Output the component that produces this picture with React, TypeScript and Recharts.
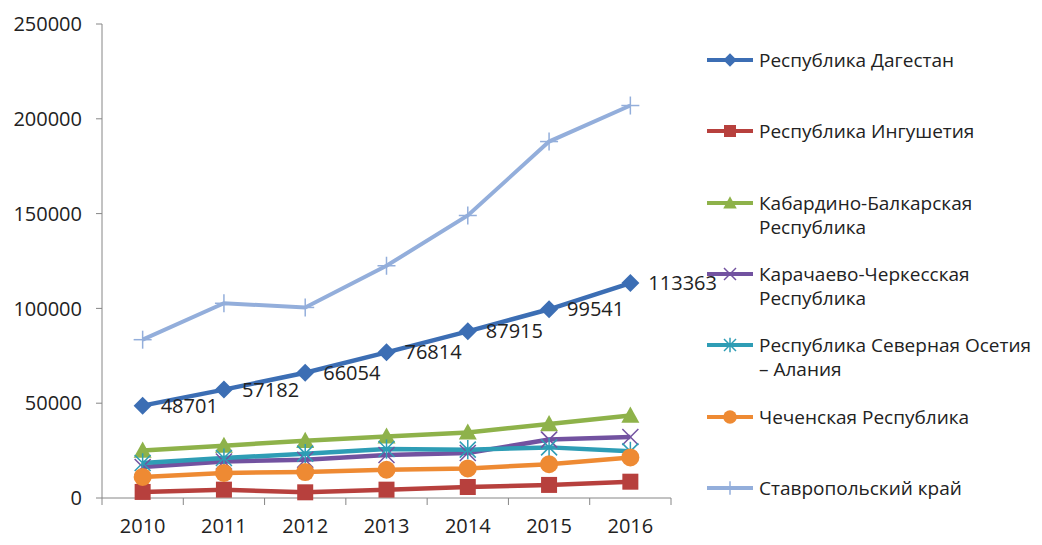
import React from 'react';
import { LineChart, Line, XAxis, YAxis, Legend, LabelList } from 'recharts';

const years = ['2010', '2011', '2012', '2013', '2014', '2015', '2016'];
const yTicks = [0, 50000, 100000, 150000, 200000, 250000];

const dagestan = [48701, 57182, 66054, 76814, 87915, 99541, 113363];
const ingushetia = [3200, 4400, 3000, 4400, 5800, 6900, 8600];
const kabardino = [25000, 27600, 30200, 32500, 34600, 39000, 43500];
const karachay = [16400, 19300, 20200, 22700, 23700, 30800, 32200];
const ossetia = [18500, 21100, 23400, 25800, 25500, 26700, 24600];
const chechnya = [11100, 13200, 13700, 14900, 15600, 17800, 21400];
const stavropol = [83500, 102700, 100500, 122500, 149000, 188000, 207000];

const series = [
  { key: 'dag', name: 'Республика Дагестан', values: dagestan, color: '#3C6EB4', shape: 'diamond' },
  { key: 'ing', name: 'Республика Ингушетия', values: ingushetia, color: '#B7403D', shape: 'square' },
  { key: 'kab', name: 'Кабардино-Балкарская Республика', values: kabardino, color: '#8EB24A', shape: 'triangle' },
  { key: 'kch', name: 'Карачаево-Черкесская Республика', values: karachay, color: '#7252A0', shape: 'cross' },
  { key: 'oss', name: 'Республика Северная Осетия – Алания', values: ossetia, color: '#2E9DB5', shape: 'star' },
  { key: 'che', name: 'Чеченская Республика', values: chechnya, color: '#EE8A33', shape: 'circle' },
  { key: 'sta', name: 'Ставропольский край', values: stavropol, color: '#93AEDB', shape: 'plus' },
];

const data = years.map((year, i) => {
  const row: Record<string, string | number> = { year };
  series.forEach((s) => { row[s.key] = s.values[i]; });
  return row;
});

const FONT = '"Open Sans", "Noto Sans", sans-serif';
const AXIS = '#868686';
const BAND = (671 - 102) / years.length;

function Marker({ shape, cx, cy, color, s = 1 }: { shape: string; cx: number; cy: number; color: string; s?: number }) {
  if (cx == null || cy == null) return null;
  switch (shape) {
    case 'diamond': {
      const r = 9 * s;
      return <path d={`M${cx},${cy - r}L${cx + r},${cy}L${cx},${cy + r}L${cx - r},${cy}Z`} fill={color} />;
    }
    case 'square': {
      const r = 8 * s;
      return <rect x={cx - r} y={cy - r} width={2 * r} height={2 * r} fill={color} />;
    }
    case 'triangle': {
      const r = 9 * s;
      return <path d={`M${cx},${cy - r}L${cx + r},${cy + r * 0.8}L${cx - r},${cy + r * 0.8}Z`} fill={color} />;
    }
    case 'circle':
      return <circle cx={cx} cy={cy} r={9 * s} fill={color} />;
    case 'cross': {
      const r = 8 * s;
      return (
        <g stroke={color} strokeWidth={1.5}>
          <line x1={cx - r} y1={cy - r} x2={cx + r} y2={cy + r} />
          <line x1={cx - r} y1={cy + r} x2={cx + r} y2={cy - r} />
        </g>
      );
    }
    case 'star': {
      const r = 8 * s;
      return (
        <g stroke={color} strokeWidth={1.5}>
          <line x1={cx - r} y1={cy - r} x2={cx + r} y2={cy + r} />
          <line x1={cx - r} y1={cy + r} x2={cx + r} y2={cy - r} />
          <line x1={cx} y1={cy - r * 1.2} x2={cx} y2={cy + r * 1.2} />
        </g>
      );
    }
    case 'plus': {
      const r = 9 * s;
      return (
        <g stroke={color} strokeWidth={1.5}>
          <line x1={cx - r} y1={cy} x2={cx + r} y2={cy} />
          <line x1={cx} y1={cy - r} x2={cx} y2={cy + r} />
        </g>
      );
    }
    default:
      return null;
  }
}

function XTick(props: any) {
  const { x, y, payload, index } = props;
  const half = BAND / 2;
  return (
    <g>
      <line x1={x - half} x2={x - half} y1={y} y2={y + 7} stroke={AXIS} />
      {index === years.length - 1 && <line x1={x + half} x2={x + half} y1={y} y2={y + 7} stroke={AXIS} />}
      <text x={x} y={y + 27} textAnchor="middle" dominantBaseline="central" fontSize={20} fill="#222" fontFamily={FONT}>
        {payload.value}
      </text>
    </g>
  );
}

function LegendContent() {
  return (
    <div style={{ fontFamily: FONT, fontSize: 19, color: '#222' }}>
      {series.map((s) => (
        <div key={s.key} style={{ display: 'flex', height: 71.33, alignItems: 'flex-start' }}>
          <svg width={54} height={24} style={{ flex: 'none' }}>
            <line x1={2} x2={48} y1={12} y2={12} stroke={s.color} strokeWidth={4} />
            <Marker shape={s.shape} cx={25} cy={12} color={s.color} s={0.75} />
          </svg>
          <div style={{ lineHeight: '24px', width: 280 }}>{s.name}</div>
        </div>
      ))}
    </div>
  );
}

export default function App() {
  return (
    <div style={{ position: 'absolute', left: 0, top: 0, width: 1042, height: 545, background: '#fff', fontFamily: FONT }}>
      <LineChart width={1042} height={545} data={data} margin={{ top: 24, right: 371, bottom: 0, left: 0 }}>
        <XAxis
          dataKey="year"
          height={47}
          padding={{ left: BAND / 2, right: BAND / 2 }}
          axisLine={{ stroke: AXIS }}
          tickLine={false}
          tickSize={0}
          tickMargin={0}
          interval={0}
          tick={<XTick />}
        />
        <YAxis
          width={102}
          domain={[0, 250000]}
          ticks={yTicks}
          interval={0}
          axisLine={{ stroke: AXIS }}
          tickLine={{ stroke: AXIS }}
          tickSize={6}
          tickMargin={14}
          tick={{ fontSize: 20, fill: '#222', fontFamily: FONT }}
        />
        <Legend
          layout="horizontal"
          verticalAlign="middle"
          align="center"
          wrapperStyle={{ left: 705, top: 48, width: 337 }}
          content={<LegendContent />}
        />
        {series.map((s) => (
          <Line
            key={s.key}
            dataKey={s.key}
            name={s.name}
            stroke={s.color}
            strokeWidth={s.key === 'sta' ? 4 : 4.5}
            isAnimationActive={false}
            dot={(p: any) => <Marker key={`${s.key}-${p.index}`} shape={s.shape} cx={p.cx} cy={p.cy} color={s.color} />}
            activeDot={false}
          >
            {s.key === 'dag' && (
              <LabelList dataKey="dag" position="right" offset={18} fontSize={20} fill="#222" fontFamily={FONT} />
            )}
          </Line>
        ))}
      </LineChart>
    </div>
  );
}
